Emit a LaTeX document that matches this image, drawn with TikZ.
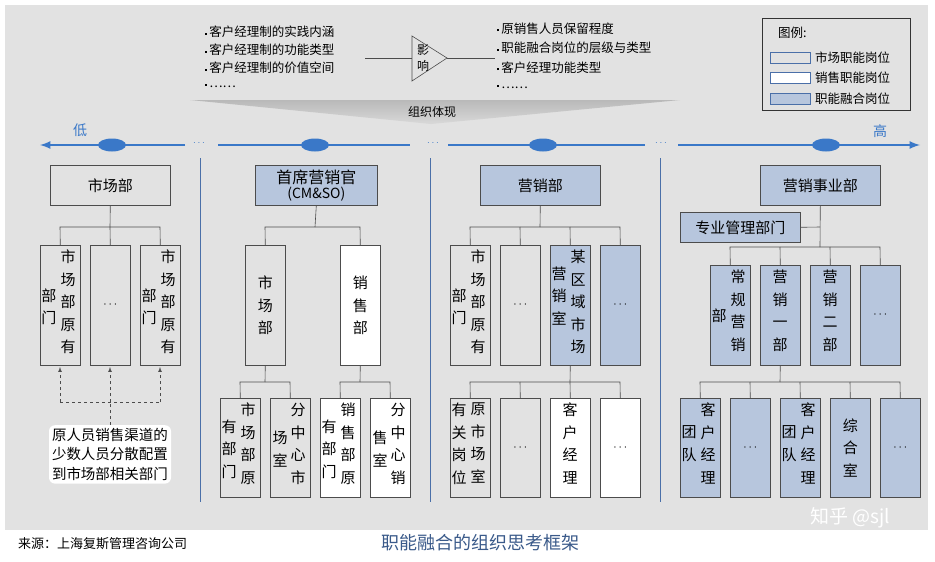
\documentclass[tikz,border=0pt]{standalone}
\usepackage{fontspec}
\newfontfamily\cjk{Noto Sans CJK SC}
\usetikzlibrary{shapes.geometric}
\definecolor{bg}{HTML}{E2E2E2}
\definecolor{bluef}{HTML}{B7C6DD}
\definecolor{axis}{HTML}{3A78C8}
\definecolor{sep}{HTML}{4A6FA8}
\definecolor{ttl}{HTML}{3A5A8A}
\begin{document}
\begin{tikzpicture}[x=1pt,y=-1pt,
  bx/.style={draw=black!70,line width=0.6pt,minimum width=40pt,minimum height=120pt,anchor=north west,inner sep=0pt},
  hd/.style={draw=black!70,line width=0.6pt,minimum width=120pt,minimum height=40pt,anchor=north west,inner sep=0pt,font=\cjk\fontsize{15}{17}\selectfont},
  vt/.style={font=\cjk\fontsize{15}{22.5}\selectfont,align=center,inner sep=0pt,anchor=north,text width=15pt},
  vtc/.style={font=\cjk\fontsize{15}{22.5}\selectfont,align=center,inner sep=0pt,text width=15pt},
  ln/.style={black!70,line width=0.6pt},
  dots/.style={font=\cjk\fontsize{12}{14}\selectfont},
  bl/.style={font=\cjk\fontsize{12.5}{14}\selectfont,anchor=west,inner sep=0pt},
  ell/.style={ellipse,fill=axis,minimum width=28pt,minimum height=13pt,inner sep=0pt},
  gsep/.style={sep,line width=0.8pt}]
\useasboundingbox (0,0) rectangle (935,562);
\fill[white] (0,0) rectangle (935,562);
\fill[bg] (5,5) rectangle (928,530);
% top bullets
\foreach \t [count=\i] in {客户经理制的实践内涵,客户经理制的功能类型,客户经理制的价值空间,……}
  \node[bl] (l\i) at (205,14+18*\i) {\rule[0.3ex]{2pt}{2pt}\,\t};
\foreach \t [count=\i] in {原销售人员保留程度,职能融合岗位的层级与类型,客户经理功能类型,……}
  \node[bl] (r\i) at (497,9+19.5*\i) {\rule[0.3ex]{2pt}{2pt}\,\t};
\coordinate (tA) at (412,36); \coordinate (tB) at (412,81); \coordinate (tC) at (447,58);
\draw[ln,fill=bg] (tA)--(tB)--(tC)--cycle;
\node[font=\cjk\fontsize{12}{14}\selectfont,align=center,inner sep=0] (ying) at (423,58) {影\\[2pt]响};
\coordinate (ll) at (365,58); \coordinate (lr) at (495,58);
\draw[ln] (ll)--(412,58); \draw[ln] (tC)--(lr);
\shade[top color=gray!55,bottom color=gray!30] (190,100)--(680,100)--(431,124)--cycle;
\node[font=\cjk\fontsize{12}{14}\selectfont] (zz) at (432,112) {组织体现};
% legend
\node[draw=black!80,line width=0.8pt,minimum width=148pt,minimum height=92pt,anchor=north west] (leg) at (762,18) {};
\node[bl] (lt) at (778,33) {图例:};
\foreach \c/\t [count=\i] in {bg/市场职能岗位,white/销售职能岗位,bluef/职能融合岗位}{
  \node[draw=sep,fill=\c,minimum width=40pt,minimum height=11pt,anchor=west,inner sep=0] (lg\i) at (770,37+20.5*\i) {};
  \node[bl] (lgt\i) at (815,37+20.5*\i) {\t};}
% axis
\coordinate (a0) at (40,145); \coordinate (a1) at (920,145);
\draw[axis,line width=2.5pt,-latex] (185,145)--(a0);
\draw[axis,line width=2.5pt] (218,145)--(410,145);
\draw[axis,line width=2.5pt] (448,145)--(645,145);
\draw[axis,line width=2.5pt,-latex] (678,145)--(a1);
\foreach \x in {192,426,654} \node[axis,font=\bfseries] at (\x+7,143) {$\cdots$};
\foreach \x/\n in {112/e1,315/e2,543/e3,826/e4} \node[ell] (\n) at (\x,145) {};
\node[font=\cjk\fontsize{14}{14}\selectfont,text=axis] (low) at (80,130) {低};
\node[font=\cjk\fontsize{14}{14}\selectfont,text=axis] (high) at (880,131) {高};
% separators
\foreach \x in {200,430,660} \draw[gsep] (\x,158)--(\x,502);
%% panel 1
\node[hd] (p1) at (50,165) {市场部};
\node[bx] (p1a) at (40,245) {}; \node[bx] (p1b) at (90,245) {}; \node[bx] (p1c) at (140,245) {};
\node[dots] at (p1b.center) {$\cdots$};
\foreach \x in {40,140}{
  \node[vt] at (\x+28,250) {市\\场\\部\\原\\有};
  \node[vtc] at (\x+9,307) {部\\门};}
\draw[ln] (p1.south)--(110,227); \draw[ln] (p1a.north)--(60,227)--(160,227)--(p1c.north); \draw[ln] (110,227)--(p1b.north);
\coordinate (d0) at (110,425);
\foreach \x in {60,110,160} \draw[dashed,black!70,line width=0.7pt,-latex] (\x,402)--(\x,367);
\draw[dashed,black!70,line width=0.7pt] (60,402)--(160,402); \draw[dashed,black!70,line width=0.7pt] (d0)--(110,402);
\node[fill=white,rounded corners=6pt,anchor=north,align=left,font=\cjk\fontsize{14.5}{19.5}\selectfont,inner sep=3pt] (note) at (d0) {原人员销售渠道的\\少数人员分散配置\\到市场部相关部门};
%% panel 2
\node[hd,fill=bluef,minimum width=122pt,align=center,font=\cjk\fontsize{16}{17}\selectfont] (p2) at (255,165) {首席营销官\\[-2pt]\fontsize{14}{14}\selectfont(CM\&SO)};
\node[bx] (p2a) at (245,245) {}; \node[bx,fill=white] (p2b) at (340,245) {};
\node[vtc] at (p2a.center) {市\\场\\部}; \node[vtc] at (p2b.center) {销\\售\\部};
\draw[ln] (p2.south)--(315,227); \draw[ln] (p2a.north)--(265,227)--(360,227)--(p2b.north);
\node[bx,minimum height=99pt] (g1) at (220,398) {}; \node[bx,minimum height=99pt] (g2) at (270,398) {};
\node[bx,minimum height=99pt,fill=white] (g3) at (320,398) {}; \node[bx,minimum height=99pt,fill=white] (g4) at (370,398) {};
\node[vt] at (248,403) {市\\场\\部\\原}; \node[vtc] at (229,449) {有\\部\\门};
\node[vt] at (298,403) {分\\中\\心\\市}; \node[vtc] at (280,449) {场\\室};
\node[vt] at (348,403) {销\\售\\部\\原}; \node[vtc] at (329,449) {有\\部\\门};
\node[vt] at (398,403) {分\\中\\心\\销}; \node[vtc] at (380,449) {售\\室};
\draw[ln] (p2a.south)--(265,382); \draw[ln] (g1.north)--(240,382)--(290,382)--(g2.north);
\draw[ln] (p2b.south)--(360,382); \draw[ln] (g3.north)--(340,382)--(390,382)--(g4.north);
%% panel 3
\node[hd,fill=bluef] (p3) at (480,165) {营销部};
\node[bx] (c1) at (450,245) {}; \node[bx] (c2) at (500,245) {}; \node[bx,fill=bluef] (c3) at (550,245) {}; \node[bx,fill=bluef] (c4) at (600,245) {};
\node[vt] at (478,250) {市\\场\\部\\原\\有}; \node[vtc] at (459,307) {部\\门};
\node[dots] at (c2.center) {$\cdots$}; \node[dots] at (c4.center) {$\cdots$};
\node[vt] at (578,250) {某\\区\\域\\市\\场}; \node[vtc] at (559,296) {营\\销\\室};
\draw[ln] (p3.south)--(540,227); \draw[ln] (c1.north)--(470,227)--(620,227)--(c4.north);
\draw[ln] (c2.north)--(520,227); \draw[ln] (c3.north)--(570,227);
\node[bx,minimum height=99pt] (h1) at (450,398) {}; \node[bx,minimum height=99pt] (h2) at (500,398) {};
\node[bx,minimum height=99pt,fill=white] (h3) at (550,398) {}; \node[bx,minimum height=99pt,fill=white] (h4) at (600,398) {};
\node[vt] at (478,403) {原\\市\\场\\室}; \node[vt] at (459,403) {有\\关\\岗\\位};
\node[dots] at (h2.center) {$\cdots$}; \node[dots] at (h4.center) {$\cdots$};
\node[vt] at (570,403) {客\\户\\经\\理};
\draw[ln] (c3.south)--(570,382); \draw[ln] (h1.north)--(470,382)--(620,382)--(h4.north);
\draw[ln] (h2.north)--(520,382); \draw[ln] (h3.north)--(570,382);
%% panel 4
\node[hd,fill=bluef] (p4) at (760,165) {营销事业部};
\node[hd,fill=bluef,minimum height=30pt] (zy) at (680,212) {专业管理部门};
\draw[ln] (p4.south)--(820,247); \draw[ln] (zy.east)--(820,227);
\node[bx,minimum height=100pt,fill=bluef] (k1) at (710,265) {}; \node[bx,minimum height=100pt,fill=bluef] (k2) at (760,265) {};
\node[bx,minimum height=100pt,fill=bluef] (k3) at (810,265) {}; \node[bx,minimum height=100pt,fill=bluef] (k4) at (860,265) {};
\node[vt] at (738,270) {常\\规\\营\\销}; \node[vtc] at (719,316) {部};
\node[vt] at (780,270) {营\\销\\一\\部}; \node[vt] at (830,270) {营\\销\\二\\部};
\node[dots] at (k4.center) {$\cdots$};
\draw[ln] (k1.north)--(730,247)--(880,247)--(k4.north); \draw[ln] (k2.north)--(780,247); \draw[ln] (k3.north)--(830,247);
\foreach \x/\n in {680/m1,730/m2,780/m3,830/m4,880/m5} \node[bx,minimum height=99pt,fill=bluef] (\n) at (\x,398) {};
\node[vt] at (708,403) {客\\户\\经\\理}; \node[vt] at (689,425.5) {团\\队};
\node[vt] at (808,403) {客\\户\\经\\理}; \node[vt] at (789,425.5) {团\\队};
\node[vtc] at (m4.center) {综\\合\\室};
\node[dots] at (m2.center) {$\cdots$}; \node[dots] at (m5.center) {$\cdots$};
\draw[ln] (k2.south)--(780,382); \draw[ln] (m1.north)--(700,382)--(900,382)--(m5.north);
\draw[ln] (m2.north)--(750,382); \draw[ln] (m4.north)--(850,382); \draw[ln] (m3.north)--(800,382);
% bottom
\node[font=\cjk\fontsize{13}{14}\selectfont,anchor=west,inner sep=0] (src) at (18,544) {来源：上海复斯管理咨询公司};
\node[font=\cjk\fontsize{18}{20}\selectfont,text=ttl] (title) at (480,543) {职能融合的组织思考框架};
\node[font=\cjk\fontsize{19}{20}\selectfont,text=white] (wm) at (850,518) {知乎 @sjl};
\end{tikzpicture}
\end{document}
